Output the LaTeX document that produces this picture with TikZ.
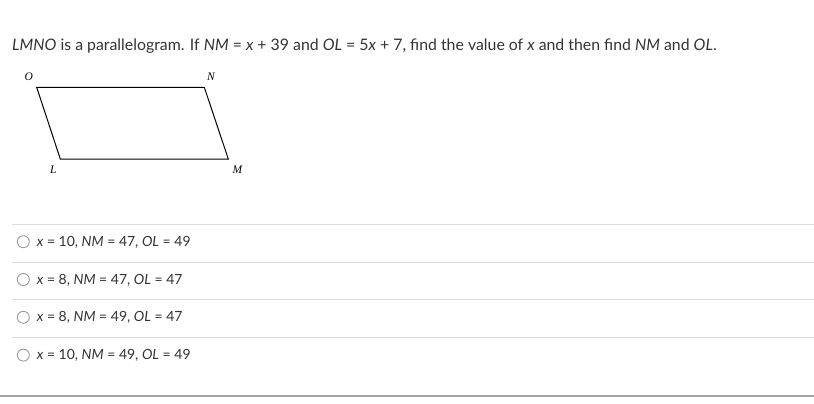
\documentclass[tikz,border=0pt]{standalone}
\usepackage{fontspec}
\setmainfont{Lato}
\newfontfamily\vertfont{Liberation Serif}
\usepackage{tikz}

\definecolor{txtgray}{HTML}{333333}
\definecolor{rulegray}{HTML}{DDDDDD}
\definecolor{basegray}{HTML}{A5A5A5}

\tikzset{
  vertlabel/.style={font=\vertfont\itshape\fontsize{11.5}{13}\selectfont, inner sep=0pt},
  choicetext/.style={anchor=base west, inner sep=0pt, text=txtgray,
    font=\fontsize{14}{16}\selectfont},
  radiobox/.style={draw=gray!80, line width=0.9pt, circle, minimum size=12pt, inner sep=0pt}
}

\begin{document}
\begin{tikzpicture}[x=1pt, y=-1pt]
  \useasboundingbox (0, 0) rectangle (814, 404);
  % question
  \node[anchor=base west, inner sep=0pt, text=txtgray, font=\fontsize{15.85}{19}\selectfont]
    (question) at (12, 50.5)
    {\textit{LMNO} is a parallelogram. If \textit{NM} = \textit{x} + 39 and
     \textit{OL} = 5\textit{x} + 7, find the value of \textit{x} and then find
     \textit{NM} and \textit{OL}.};
  % parallelogram
  \coordinate (O) at (36.7, 87.3);
  \coordinate (N) at (204.3, 87.3);
  \coordinate (M) at (228.3, 159);
  \coordinate (L) at (60.3, 159);
  \draw [line width=1pt] (O) -- (N) -- (M) -- (L) -- cycle;
  \node[vertlabel] (labO) at (28.7, 76.7)  {O};
  \node[vertlabel] (labN) at (211, 76.7)   {N};
  \node[vertlabel] (labL) at (53.3, 169.3) {L};
  \node[vertlabel] (labM) at (237.3, 169.3) {M};
  % choices
  \foreach \y/\txt [count=\i] in {
      241.7/{\textit{x} = 10, \textit{NM} = 47, \textit{OL} = 49},
      279.5/{\textit{x} = 8, \textit{NM} = 47, \textit{OL} = 47},
      317.3/{\textit{x} = 8, \textit{NM} = 49, \textit{OL} = 47},
      355.1/{\textit{x} = 10, \textit{NM} = 49, \textit{OL} = 49}} {
    \draw [rulegray, line width=1pt] (12, \y-17.4) -- (814, \y-17.4);
    \node[radiobox] (radio\i) at (23.3, \y) {};
    \node[choicetext] (choice\i) at (36.7, \y+4.5) {\txt};
  }
  \draw [basegray, line width=2pt] (0, 396) -- (814, 396);
\end{tikzpicture}
\end{document}
